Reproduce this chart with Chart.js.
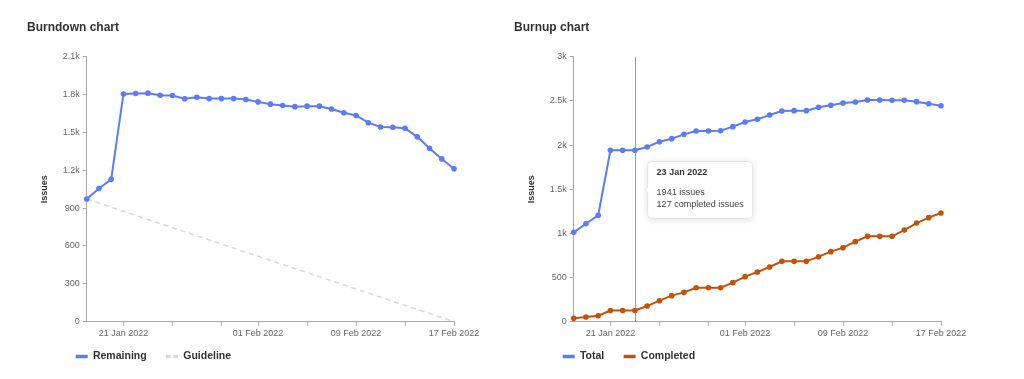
<!DOCTYPE html>
<html><head><meta charset="utf-8">
<script src="https://cdn.jsdelivr.net/npm/chart.js@4/dist/chart.umd.min.js"></script>
<style>
html,body{margin:0;padding:0;background:#fff;width:1024px;height:379px;overflow:hidden}
canvas{position:absolute;top:0}
#c1{left:0}
#c2{left:487px}
</style></head><body>
<canvas id="c1" width="487" height="379"></canvas>
<canvas id="c2" width="487" height="379"></canvas>
<script>
// ---------- data ----------
const dates = ['18 Jan 2022','19 Jan 2022','20 Jan 2022','21 Jan 2022','22 Jan 2022','23 Jan 2022','24 Jan 2022',
  '25 Jan 2022','26 Jan 2022','27 Jan 2022','28 Jan 2022','29 Jan 2022','30 Jan 2022','31 Jan 2022',
  '01 Feb 2022','02 Feb 2022','03 Feb 2022','04 Feb 2022','05 Feb 2022','06 Feb 2022','07 Feb 2022',
  '08 Feb 2022','09 Feb 2022','10 Feb 2022','11 Feb 2022','12 Feb 2022','13 Feb 2022','14 Feb 2022',
  '15 Feb 2022','16 Feb 2022','17 Feb 2022'];
const remaining = [972,1055,1128,1805,1808,1811,1795,1792,1767,1779,1768,1768,1768,1761,1742,1724,
  1713,1704,1708,1708,1686,1656,1634,1577,1543,1541,1533,1465,1374,1290,1212];
const guidelineDates = ['18 Jan 2022','17 Feb 2022'];
const guideline = [972, 0];
const total = [1012,1109,1204,1941,1941,1941,1978,2038,2072,2121,2159,2159,2162,2208,2261,2291,
  2340,2385,2389,2389,2427,2450,2476,2487,2510,2510,2506,2506,2491,2468,2445];
const completed = [38,53,68,127,127,127,177,238,295,332,385,385,385,442,510,562,619,683,683,683,
  736,793,838,906,966,966,966,1037,1117,1178,1230];
const xTickDates = ['21 Jan 2022','25 Jan 2022','29 Jan 2022','01 Feb 2022','05 Feb 2022','09 Feb 2022','13 Feb 2022','17 Feb 2022'];
const xTickLabels = ['21 Jan 2022','01 Feb 2022','09 Feb 2022','17 Feb 2022'];
const leftYLabels = ['0','300','600','900','1.2k','1.5k','1.8k','2.1k'];
const rightYLabels = ['0','500','1k','1.5k','2k','2.5k','3k'];
const tooltipDate = '23 Jan 2022';

// ---------- styling ----------
const BLUE = '#5b7bfa', ORANGE = '#c4520a', GUIDE = '#d9d9d9';
Chart.defaults.font.family = "'Liberation Sans', Arial, Helvetica, sans-serif";
Chart.defaults.animation = false;

const legendShift = {
  id: 'legendShift',
  afterLayout(chart) {
    const lg = chart.legend;
    lg.left += 29.35; lg.right += 29.35;
    lg.top -= 7.25; lg.bottom -= 7.25;
  }
};

function legendLabels(chart) {
  return chart.data.datasets.map((ds, i) => ({
    text: ds.label, fillStyle: ds.borderColor, strokeStyle: ds.borderColor,
    lineWidth: 3.5, lineDash: ds.borderDash ? [4.5, 3] : [], pointStyle: 'line',
    hidden: false, datasetIndex: i, fontColor: '#333'
  }));
}

function baseOptions(title, yMax, yStep, yLabels) {
  return {
    responsive: false, events: [],
    layout: { padding: { left: 27, right: 0, top: 0, bottom: 0 } },
    plugins: {
      title: { display: true, text: title, align: 'start', color: '#333',
        font: { size: 12, weight: 'bold' }, padding: { top: 20, bottom: 22.3 } },
      legend: { position: 'bottom', align: 'start',
        labels: { usePointStyle: true, pointStyleWidth: 12, padding: 19.35, color: '#333',
          font: { size: 10.5, weight: 'bold' }, generateLabels: legendLabels } },
      tooltip: { enabled: false }
    },
    scales: {
      x: {
        type: 'category',
        afterBuildTicks: s => { s.ticks = xTickDates.map(d => ({ value: dates.indexOf(d) })); },
        ticks: { autoSkip: false, maxRotation: 0, color: '#666', font: { size: 9 }, padding: 2,
          callback: v => xTickLabels.includes(dates[v]) ? dates[v] : '' },
        grid: { drawOnChartArea: false, tickLength: 4, color: '#aaa' },
        border: { color: '#aaa' },
        afterFit: s => { s.height = 17.45; s.paddingRight = 33; s.paddingLeft = 0; }
      },
      y: {
        min: 0, max: yMax,
        ticks: { stepSize: yStep, color: '#666', font: { size: 9 }, padding: 3,
          callback: (v, i) => yLabels[i] },
        grid: { drawOnChartArea: false, tickLength: 4, color: '#aaa' },
        border: { color: '#aaa' },
        title: { display: true, text: 'Issues', color: '#333', font: { size: 9, weight: 'bold' },
          padding: { top: 12.6, bottom: 0 } },
        afterFit: s => { s.width = 59.7; }
      }
    }
  };
}

function lineDs(label, data, color) {
  return { label, data, borderColor: color, backgroundColor: color, borderWidth: 2,
    pointRadius: 2.8, pointHoverRadius: 2.8, pointBorderWidth: 0, pointBackgroundColor: color,
    tension: 0, clip: false };
}

// ---------- burndown ----------
new Chart(document.getElementById('c1'), {
  type: 'line',
  data: {
    labels: dates,
    datasets: [
      lineDs('Remaining', remaining, BLUE),
      { label: 'Guideline', data: guidelineDates.map((d, i) => ({ x: d, y: guideline[i] })),
        borderColor: GUIDE, backgroundColor: GUIDE, borderWidth: 1.5, borderDash: [5, 4],
        pointRadius: 0, pointHoverRadius: 0, clip: false }
    ]
  },
  options: baseOptions('Burndown chart', 2100, 300, leftYLabels),
  plugins: [legendShift]
});

// ---------- burnup ----------
const tipIndex = dates.indexOf(tooltipDate);
Chart.Tooltip.positioners.besideLine = function (items) {
  if (!items.length) return false;
  const ca = this.chart.chartArea;
  return { x: items[0].element.x + 7.7, y: ca.top + (ca.bottom - ca.top) * 0.503, xAlign: 'left', yAlign: 'center' };
};
const crosshair = {
  id: 'crosshair',
  beforeDatasetsDraw(chart) {
    const x = chart.scales.x.getPixelForValue(tipIndex);
    const { top, bottom } = chart.chartArea, ctx = chart.ctx;
    ctx.save(); ctx.strokeStyle = '#9a9a9a'; ctx.lineWidth = 1;
    ctx.beginPath(); ctx.moveTo(Math.round(x) + 0.5, top); ctx.lineTo(Math.round(x) + 0.5, bottom); ctx.stroke();
    ctx.restore();
  },
  beforeTooltipDraw(chart, args) {
    const tt = args.tooltip, ctx = chart.ctx;
    if (!tt.opacity) return;
    ctx.save(); ctx.shadowColor = 'rgba(0,0,0,0.14)'; ctx.shadowBlur = 7; ctx.shadowOffsetY = 1;
    ctx.fillStyle = '#fff'; ctx.beginPath(); ctx.roundRect(tt.x, tt.y, tt.width, tt.height, 4); ctx.fill();
    ctx.restore();
  }
};
const opt2 = baseOptions('Burnup chart', 3000, 500, rightYLabels);
opt2.plugins.tooltip = {
  enabled: true, position: 'besideLine', xAlign: 'left', yAlign: 'center',
  backgroundColor: '#fff', borderColor: '#e4e4e4', borderWidth: 1, cornerRadius: 4,
  caretSize: 3, caretPadding: 2, displayColors: false,
  padding: { top: 6, bottom: 8, left: 9, right: 9 },
  titleColor: '#333', titleFont: { size: 9, weight: 'bold' }, titleMarginBottom: 8.4,
  bodyColor: '#444', bodyFont: { size: 9 }, bodySpacing: 2,
  callbacks: {
    title: items => dates[items[0].dataIndex],
    label: c => c.datasetIndex === 0 ? c.parsed.y + ' issues' : c.parsed.y + ' completed issues'
  }
};
const chart2 = new Chart(document.getElementById('c2'), {
  type: 'line',
  data: { labels: dates, datasets: [lineDs('Total', total, BLUE), lineDs('Completed', completed, ORANGE)] },
  options: opt2,
  plugins: [legendShift, crosshair]
});
chart2.tooltip.setActiveElements([{ datasetIndex: 0, index: tipIndex }, { datasetIndex: 1, index: tipIndex }], { x: 0, y: 0 });
chart2.update();
</script>
</body></html>
